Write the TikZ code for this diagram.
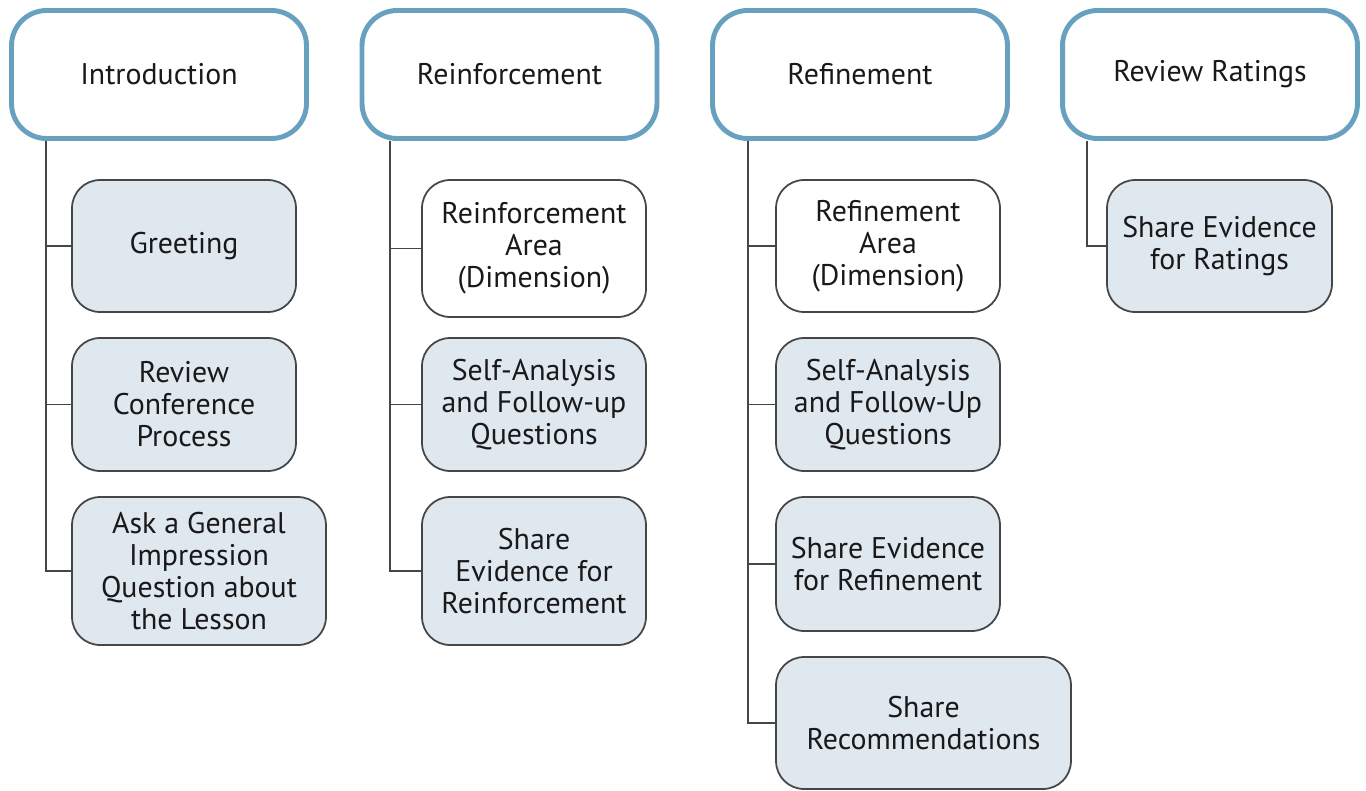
\documentclass[tikz,border=0pt]{standalone}
\usepackage{fontspec}
\setmainfont{PT Sans}
\usepackage{tikz}
\usetikzlibrary{positioning}
\definecolor{HeadBlue}{RGB}{104,160,192}
\definecolor{SubFill}{RGB}{223,231,239}
\definecolor{LineGray}{RGB}{70,70,70}
\tikzset{
  hdr/.style={draw=HeadBlue, line width=2.8pt, rounded corners=0.7cm, fill=white,
    minimum width=5.9cm, minimum height=2.56cm, align=center, text=black!90,
    font=\fontsize{17}{18.2}\selectfont},
  sub/.style={draw=LineGray, line width=1pt, rounded corners=0.56cm, fill=SubFill,
    minimum width=4.48cm, align=center, text=black!90, inner sep=2pt,
    font=\fontsize{17}{18.2}\selectfont},
  plain/.style={sub, fill=white},
  branch/.style={draw=LineGray, line width=1.1pt}
}
\begin{document}
\begin{tikzpicture}[x=0.02cm,y=-0.02cm]
  \useasboundingbox[fill=white] (0,0) rectangle (1366,791);

  % header row
  \node[hdr] (intro) at (159,74.5) {Introduction};
  \node[hdr] (reinf) at (509.5,74.5) {Reinforcement};
  \node[hdr] (refin) at (860,74.5) {Refinement};
  \node[hdr] (rating) at (1210,74.5) {Review Ratings};

  % introduction
  \node[sub, minimum height=2.64cm] (greet) at (184,246) {Greeting};
  \node[sub, minimum height=2.66cm] (rcp) at (184,404.5) {Review\\Conference\\Process};
  \node[sub, minimum width=5.08cm, minimum height=2.96cm] (ask) at (199,571) {Ask a General\\Impression\\Question about\\the Lesson};

  % reinforcement
  \node[plain, minimum height=2.74cm] (rarea) at (534,248.5) {Reinforcement\\Area\\(Dimension)};
  \node[sub, minimum height=2.66cm] (rself) at (534,404.5) {Self-Analysis\\and Follow-up\\Questions};
  \node[sub, minimum height=2.96cm] (rshare) at (534,571) {Share\\Evidence for\\Reinforcement};

  % refinement
  \node[plain, minimum height=2.64cm] (farea) at (888,246) {Refinement\\Area\\(Dimension)};
  \node[sub, minimum height=2.66cm] (fself) at (888,404.5) {Self-Analysis\\and Follow-Up\\Questions};
  \node[sub, minimum height=2.68cm] (fshare) at (888,564) {Share Evidence\\for Refinement};
  \node[sub, minimum width=5.9cm, minimum height=2.64cm] (frec) at (923.5,723) {Share\\Recommendations};

  % review ratings
  \node[sub, minimum width=4.5cm, minimum height=2.64cm] (vshare) at (1219.5,246) {Share Evidence\\for Ratings};

  % trunks
  \coordinate (t1) at (46,0);
  \coordinate (t2) at (390,0);
  \coordinate (t3) at (748,0);
  \coordinate (t4) at (1087,0);

  \draw[branch] (intro.south -| t1) |- (ask.west);
  \draw[branch] (t1 |- greet.west) -- (greet.west);
  \draw[branch] (t1 |- rcp.west) -- (rcp.west);

  \draw[branch] (reinf.south -| t2) |- (rshare.west);
  \draw[branch] (t2 |- rarea.west) -- (rarea.west);
  \draw[branch] (t2 |- rself.west) -- (rself.west);

  \draw[branch] (refin.south -| t3) |- (frec.west);
  \draw[branch] (t3 |- farea.west) -- (farea.west);
  \draw[branch] (t3 |- fself.west) -- (fself.west);
  \draw[branch] (t3 |- fshare.west) -- (fshare.west);

  \draw[branch] (rating.south -| t4) |- (vshare.west);
\end{tikzpicture}
\end{document}
